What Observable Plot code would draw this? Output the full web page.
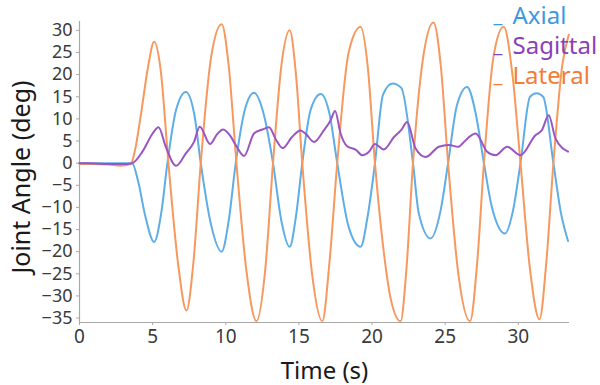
<!DOCTYPE html>
<html><head><meta charset="utf-8">
<script src="https://cdn.jsdelivr.net/npm/d3@7"></script>
<script src="https://cdn.jsdelivr.net/npm/@observablehq/plot@0.6"></script>
<style>body{margin:0;background:#fff;} #chart{width:600px;height:385px;}</style>
</head><body><div id="chart"></div>
<script>
const seriesNames = ["Axial", "Sagittal", "Lateral"];
const lineColors = ["#5dade6", "#9b55c2", "#f7985f"];
const legendColors = ["#3c9ae0", "#8c3fb8", "#f27d38"];
const xTicks = [0, 5, 10, 15, 20, 25, 30];
const yTicks = [-35, -30, -25, -20, -15, -10, -5, 0, 5, 10, 15, 20, 25, 30];
const xDomain = [0, 33.5];
const yDomain = [-36, 32];

const axialT = [0, 1, 2, 3, 3.6, 4.0, 4.5, 5.1, 5.6, 6.01, 6.6, 7.27, 7.85, 8.29, 9.0, 9.72, 10.2, 10.68, 11.3, 11.93, 12.6, 13.23, 13.8, 14.37, 14.8, 15.23, 15.8, 16.49, 17.1, 17.62, 18.4, 19.22, 19.7, 20.2, 20.75, 21.4, 22.0, 22.8, 23.2, 24.0, 24.7, 25.2, 25.8, 26.5, 27.1, 27.65, 28.2, 29.1, 29.65, 30.15, 30.8, 31.25, 31.7, 32.4, 32.9, 33.4];
const axialV = [0, 0, 0, 0, 0, -4, -12, -17.8, -11, 0, 12, 16.1, 11, 0, -14, -20, -13, 0, 12, 15.9, 11, 0, -13, -18.9, -12, 0, 12, 15.6, 11, 0, -14.4, -18.9, -12, 0, 15.5, 18, 17, 0, -11.4, -17, -10.5, 0, 13, 17.2, 11, 0, -10, -15.9, -10.5, 0, 15, 15.8, 15, 0, -11, -17.6];

const sagT = [0, 1, 2, 3, 3.6, 4.3, 5.0, 5.4, 5.9, 6.6, 7.27, 7.83, 8.22, 8.93, 9.4, 9.82, 10.3, 10.68, 11.25, 11.93, 12.5, 12.96, 13.4, 13.9, 14.5, 15.1, 15.5, 16.03, 16.7, 17.17, 17.47, 17.85, 18.3, 18.9, 19.33, 19.79, 20.2, 20.8, 21.5, 22.0, 22.4, 22.98, 23.66, 24.57, 25.25, 25.9, 26.2, 26.6, 27.08, 27.87, 28.44, 29.24, 30.15, 31.17, 31.6, 32.08, 32.54, 33.4];
const sagV = [0, -0.1, -0.2, -0.2, 0, 2.6, 6.7, 8.1, 3.7, -0.6, 2.2, 4.8, 8.2, 4.3, 6.5, 7.6, 6.2, 4.1, 1.6, 6.7, 7.6, 8.1, 5.5, 3.4, 5.8, 7.4, 6.5, 4.8, 7.4, 9.7, 11.8, 6.7, 3.8, 3.0, 1.8, 2.6, 4.3, 3.1, 5.9, 7.5, 9.3, 3.3, 1.4, 3.7, 4.1, 3.7, 4.5, 5.8, 6.7, 2.6, 1.8, 3.7, 1.8, 6.3, 7.4, 10.8, 5.6, 2.6];

const latT = [0, 1, 2, 2.8, 3.5, 3.8, 4.2, 4.7, 5.1, 5.55, 6.08, 6.75, 7.31, 7.8, 8.29, 9.0, 9.72, 10.2, 10.73, 11.4, 12.1, 12.7, 13.23, 13.8, 14.37, 14.8, 15.23, 15.9, 16.6, 17.1, 17.62, 18.4, 19.22, 19.7, 20.2, 20.8, 21.3, 21.95, 22.35, 22.8, 23.5, 24.2, 24.7, 25.2, 25.9, 26.7, 27.2, 27.65, 28.3, 29.0, 29.6, 30.15, 30.8, 31.45, 31.9, 32.4, 33.0, 33.45];
const latV = [-0.2, -0.2, -0.3, -0.6, -0.2, 3, 11, 22, 27.4, 21, 0, -23, -33.3, -22, 0, 24, 31.4, 22, 0, -24, -35.7, -24, 0, 22, 30, 20, 0, -25, -35.7, -22, 0, 25, 30.8, 22, 0, -20, -31, -35.7, -24, 0, 24, 31.8, 22, 0, -25, -35.7, -22, 0, 24, 30.8, 20, 0, -24, -35.3, -23, 0, 22, 29];

const series = [
  {name: seriesNames[0], t: axialT, v: axialV, color: lineColors[0]},
  {name: seriesNames[1], t: sagT, v: sagV, color: lineColors[1]},
  {name: seriesNames[2], t: latT, v: latV, color: lineColors[2]}
];
const rows = s => s.t.map((t, i) => ({t, v: s.v[i], name: s.name}));

const FONT = "Noto Sans";
const legendBaselines = [2, 32, 62];

const marks = [
  Plot.ruleX([xDomain[0]], {stroke: "#a9a9a9", strokeWidth: 1.2}),
  Plot.ruleY([yDomain[0]], {stroke: "#a9a9a9", strokeWidth: 1.2}),
  Plot.axisY({ticks: yTicks, tickSize: 3, tickPadding: 4, fontSize: 18, label: null, stroke: "#a9a9a9", fill: "#3a3a3a"}),
  Plot.axisX({ticks: xTicks, tickSize: 3, tickPadding: 4, fontSize: 19, label: null, stroke: "#a9a9a9", fill: "#3a3a3a"}),
  Plot.line(rows(series[0]), {x: "t", y: "v", stroke: series[0].color, strokeWidth: 2, curve: "monotone-x"}),
  Plot.line(rows(series[2]), {x: "t", y: "v", stroke: series[2].color, strokeWidth: 2, curve: "monotone-x"}),
  Plot.line(rows(series[1]), {x: "t", y: "v", stroke: series[1].color, strokeWidth: 2, curve: "monotone-x"}),
  Plot.text(["Joint Angle (deg)"], {frameAnchor: "left", rotate: -90, dx: -58, dy: 5, fontSize: 25, fill: "#1a1a1a", lineAnchor: "middle", textAnchor: "middle"}),
  Plot.text(["Time (s)"], {frameAnchor: "bottom", dy: 56, fontSize: 24, fill: "#1a1a1a", lineAnchor: "bottom", textAnchor: "middle"})
];
seriesNames.forEach((name, i) => {
  marks.push(Plot.text([name], {frameAnchor: "top-right", dx: -57, dy: legendBaselines[i], textAnchor: "start", lineAnchor: "bottom", fontSize: 24, fill: legendColors[i]}));
  marks.push(Plot.text(["_"], {frameAnchor: "top-right", dx: -76, dy: legendBaselines[i] - 2, textAnchor: "start", lineAnchor: "bottom", fontSize: 20, fill: legendColors[i]}));
});

const chart = Plot.plot({
  width: 600,
  height: 385,
  marginLeft: 79,
  marginRight: 31,
  marginTop: 21,
  marginBottom: 63,
  x: {domain: xDomain},
  y: {domain: yDomain},
  style: {fontFamily: FONT, background: "#fff", overflow: "visible"},
  marks
});
document.getElementById("chart").appendChild(chart);
</script>
</body></html>
